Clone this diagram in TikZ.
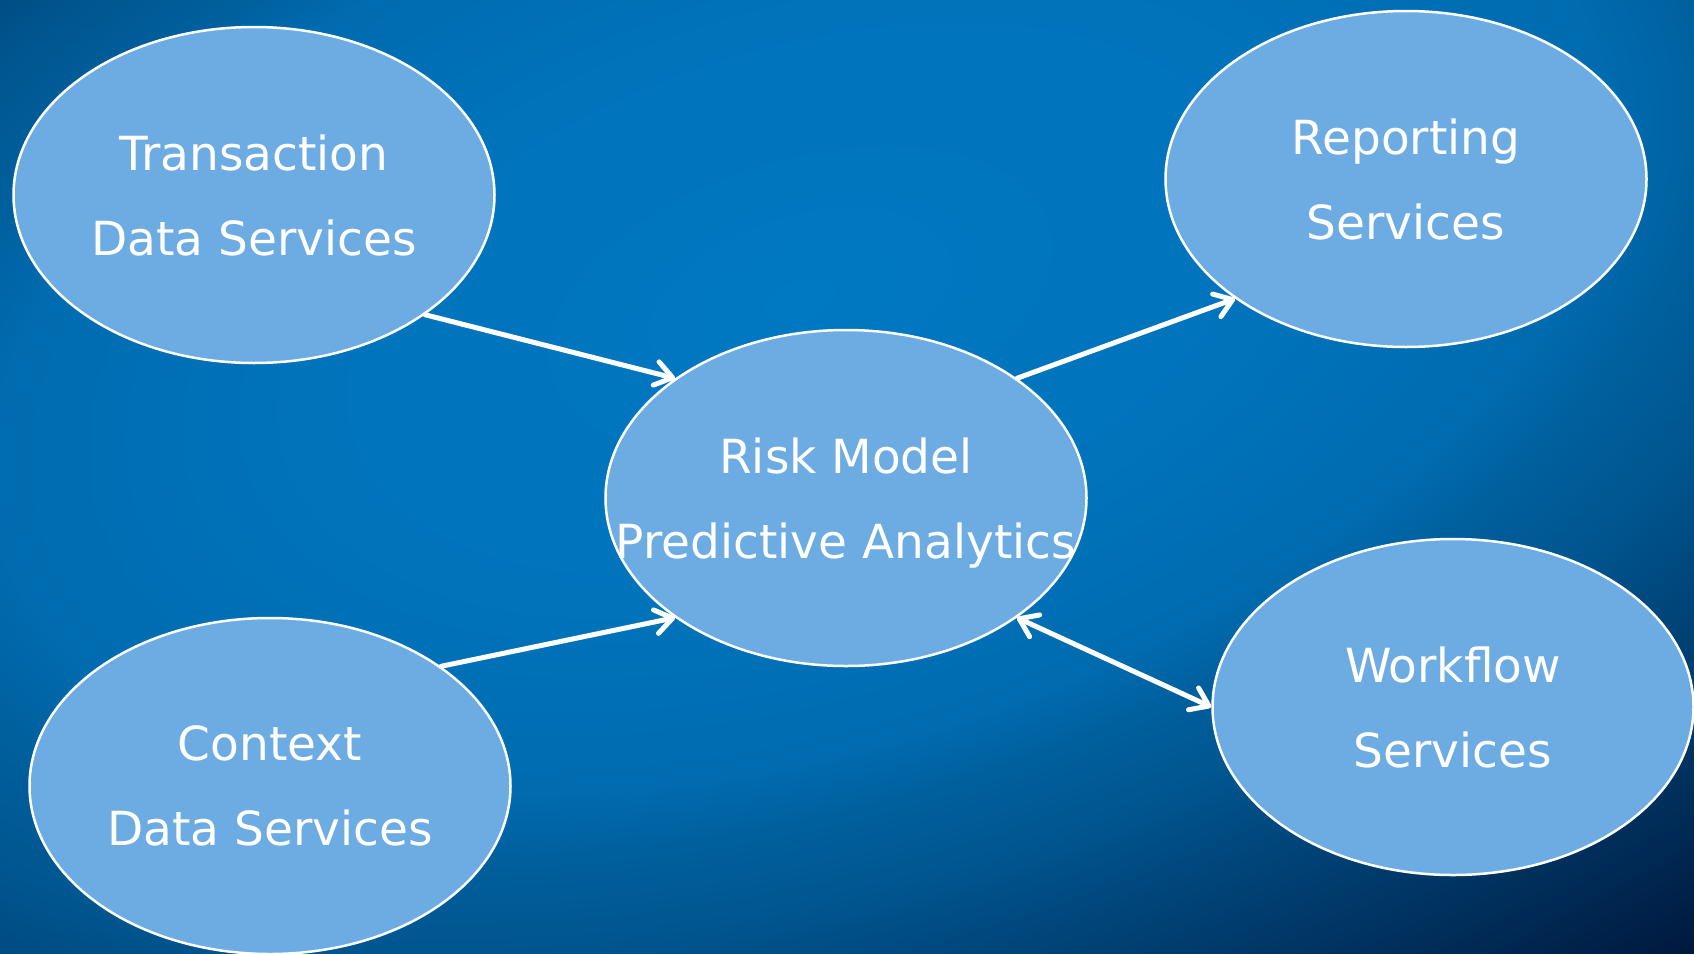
\documentclass[tikz,border=0pt]{standalone}
\usepackage{fontspec}
\setmainfont{DejaVu Sans}
\usetikzlibrary{shapes.geometric,arrows.meta}

\definecolor{bgA}{RGB}{0,120,194}
\definecolor{bgB}{RGB}{0,115,187}
\definecolor{bgC}{RGB}{0,107,175}
\definecolor{bgD}{RGB}{0,95,157}
\definecolor{bgE}{RGB}{0,85,142}
\definecolor{bgF}{RGB}{0,75,130}
\definecolor{bgG}{RGB}{0,25,62}
\definecolor{bgH}{RGB}{0,22,58}
\definecolor{svcfill}{RGB}{108,172,227}

\pgfdeclareradialshading{bgshade}{\pgfpoint{0bp}{0bp}}{%
  color(0bp)=(bgA); color(7.15bp)=(bgB); color(11.45bp)=(bgC);
  color(13.05bp)=(bgD); color(15.2bp)=(bgE); color(16.45bp)=(bgF);
  color(24.3bp)=(bgG); color(25bp)=(bgH); color(50bp)=(bgH)}

\tikzset{
  service/.style={ellipse, draw=white, line width=2.5pt, fill=svcfill,
    minimum width=481pt, minimum height=336pt, inner sep=0pt},
  svctext/.style={text=white, align=center, inner sep=0pt, text depth=0pt,
    font=\fontsize{47}{85}\selectfont},
  link/.style={draw=white, line width=5pt, line cap=round},
  >={Straight Barb[length=17pt,width=24pt,round]}
}

\begin{document}
\begin{tikzpicture}[x=1pt,y=-1pt]
 \useasboundingbox (0,0) rectangle (1694,953);
 % background
 \begin{scope}
  \clip (0,0) rectangle (1694,953);
  \shade[shading=bgshade, transform canvas={shift={(800,300)}, rotate=17, xscale=18.2, yscale=9.8}]
    (0,0) circle (100);
 \end{scope}
 % services
 \node[service, label={[svctext]center:Transaction\\Data Services}] (trans) at (254,195) {};
 \node[service, label={[svctext]center:Context\\Data Services}] (context) at (270,786) {};
 \node[service, label={[svctext]center:Risk Model\\Predictive Analytics}] (risk) at (846,498) {};
 \node[service, label={[svctext]center:Reporting\\Services}] (report) at (1406,179) {};
 \node[service, label={[svctext]center:Workflow\\Services}] (work) at (1453,707) {};
 % links
 \draw[link,->] (trans.-35) -- (risk.145);
 \draw[link,->] (context.35) -- (risk.215);
 \draw[link,->] (risk.35) -- (report.215);
 \draw[link,<->] (risk.-35) -- (work.180);
\end{tikzpicture}
\end{document}
